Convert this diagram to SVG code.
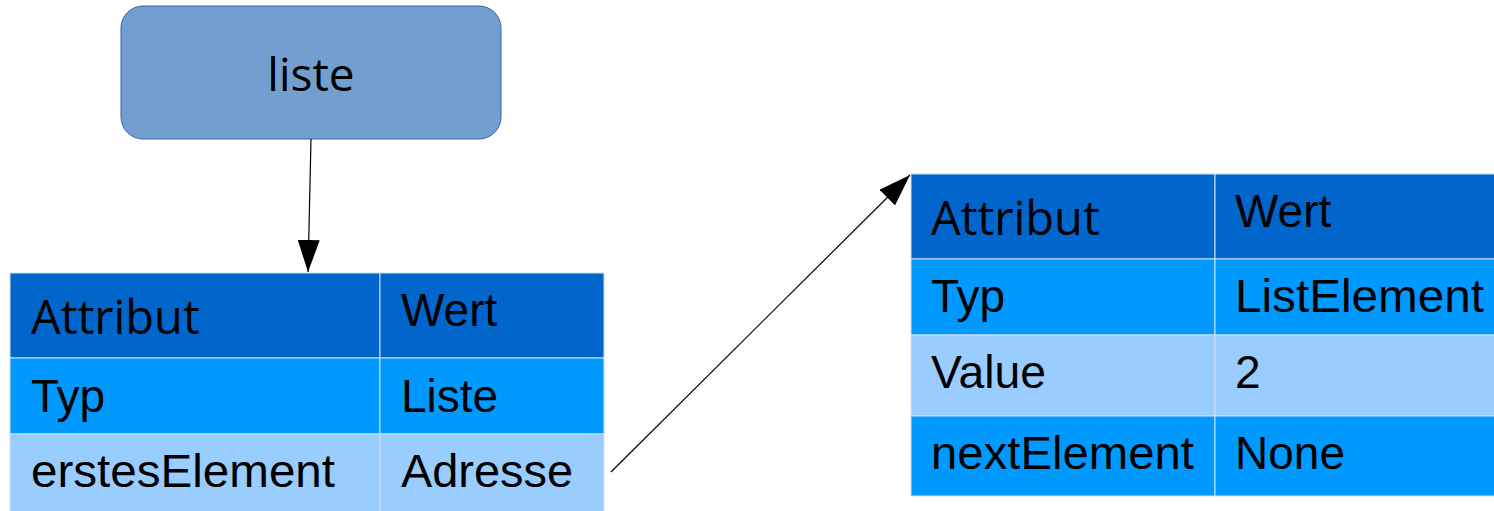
<svg xmlns="http://www.w3.org/2000/svg" width="1494" height="511" viewBox="0 0 1494 511">
  <style>
    text { font-family: "Liberation Sans", Arial, sans-serif; font-size: 46px; fill: #000000; }
    .sans { font-family: "Open Sans", "Noto Sans", sans-serif; }
    .hdr { fill: #0066cc; }
    .mid { fill: #0099ff; }
    .lite { fill: #99ccff; }
    .cell { stroke: #cfe2f3; stroke-width: 1; }
    .edge { stroke: #000000; stroke-width: 1.2; fill: none; }
    .node { fill: #729fcf; stroke: #3465a4; stroke-width: 1; }
  </style>
  <defs>
    <marker id="arrow" viewBox="0 0 32 22" refX="32" refY="11" markerWidth="32" markerHeight="22" markerUnits="userSpaceOnUse" orient="auto">
      <path d="M0,0 L32,11 L0,22 Z" fill="#000000"/>
    </marker>
  </defs>

  <!-- variable box -->
  <g id="liste">
    <rect class="node" x="121" y="6" width="380" height="133" rx="22" ry="22"/>
    <text class="sans" x="311" y="91" text-anchor="middle">liste</text>
  </g>

  <!-- object table for the list -->
  <g id="liste-table">
    <rect class="hdr cell" x="10" y="273" width="370" height="85"/>
    <rect class="hdr cell" x="380" y="273" width="224" height="85"/>
    <rect class="mid cell" x="10" y="358" width="370" height="76"/>
    <rect class="mid cell" x="380" y="358" width="224" height="76"/>
    <rect class="lite cell" x="10" y="434" width="370" height="78"/>
    <rect class="lite cell" x="380" y="434" width="224" height="78"/>
    <text class="sans" x="31" y="333.5" style="font-size:47px">Attribut</text>
    <text x="401" y="325.5">Wert</text>
    <text x="31" y="411.7">Typ</text>
    <text x="401" y="411.7">Liste</text>
    <text x="31" y="487" textLength="304" lengthAdjust="spacingAndGlyphs">erstesElement</text>
    <text x="401" y="487" textLength="172" lengthAdjust="spacingAndGlyphs">Adresse</text>
  </g>

  <!-- object table for the first list element -->
  <g id="element-table">
    <rect class="hdr cell" x="911" y="174" width="304" height="85"/>
    <rect class="hdr cell" x="1215" y="174" width="290" height="85"/>
    <rect class="mid cell" x="911" y="259" width="304" height="76"/>
    <rect class="mid cell" x="1215" y="259" width="290" height="76"/>
    <rect class="lite cell" x="911" y="335" width="304" height="81"/>
    <rect class="lite cell" x="1215" y="335" width="290" height="81"/>
    <rect class="mid cell" x="911" y="416" width="304" height="80"/>
    <rect class="mid cell" x="1215" y="416" width="290" height="80"/>
    <text class="sans" x="931" y="235" style="font-size:47px">Attribut</text>
    <text x="1235" y="227">Wert</text>
    <text x="931" y="312">Typ</text>
    <text x="1235" y="312" textLength="249" lengthAdjust="spacingAndGlyphs">ListElement</text>
    <text x="931" y="388.3" textLength="115" lengthAdjust="spacingAndGlyphs">Value</text>
    <text x="1235" y="388.3">2</text>
    <text x="931" y="469.3" textLength="263" lengthAdjust="spacingAndGlyphs">nextElement</text>
    <text x="1235" y="469.3">None</text>
  </g>

  <!-- references -->
  <g id="connectors">
    <line class="edge" x1="311" y1="139" x2="308" y2="272" marker-end="url(#arrow)"/>
    <line class="edge" x1="611" y1="472" x2="910" y2="175" marker-end="url(#arrow)"/>
  </g>
</svg>
